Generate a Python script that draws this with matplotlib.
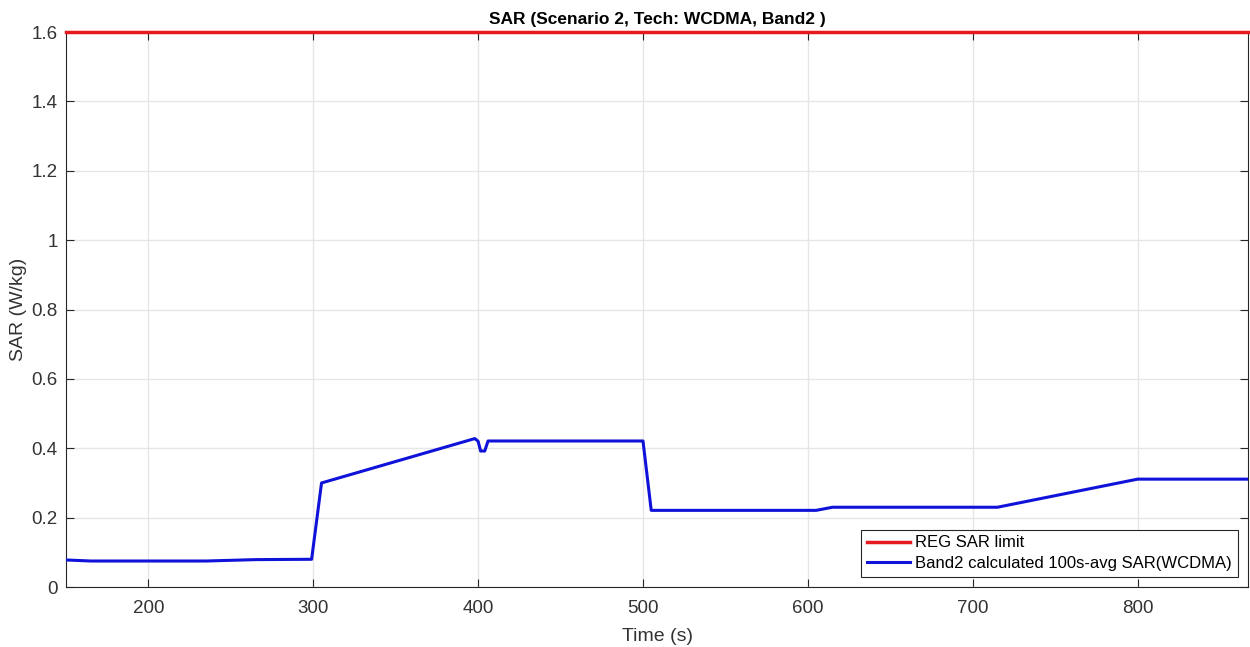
import matplotlib
matplotlib.use("Agg")
import matplotlib.pyplot as plt
import numpy as np

# Data
time_s = [150, 165, 235, 265, 299, 305, 398, 400, 401.5, 404, 406, 500, 505, 605, 615, 715, 800, 867]
sar_avg = [0.078, 0.075, 0.075, 0.079, 0.080, 0.300, 0.428, 0.420, 0.392, 0.392, 0.421, 0.421, 0.221, 0.221, 0.230, 0.230, 0.311, 0.311]
limit_time = [150, 867]
limit_sar = [1.6, 1.6]

xticks = [200, 300, 400, 500, 600, 700, 800]
yticks = [0, 0.2, 0.4, 0.6, 0.8, 1.0, 1.2, 1.4, 1.6]
yticklabels = ["0", "0.2", "0.4", "0.6", "0.8", "1", "1.2", "1.4", "1.6"]

plt.rcParams['font.family'] = ['Liberation Sans', 'DejaVu Sans']

fig = plt.figure(figsize=(12.5, 6.47), dpi=100)
ax = fig.add_axes([0.0528, 0.0927, 0.9456, 0.8578])

ax.plot(limit_time, limit_sar, color='#e8191e', lw=2.5, label='REG SAR limit', clip_on=False, zorder=3)
ax.plot(time_s, sar_avg, color='#0f12d8', lw=2.2, label='Band2 calculated 100s-avg SAR(WCDMA)', zorder=3)

ax.set_xlim(150, 867)
ax.set_ylim(0, 1.6)
ax.set_xticks(xticks)
ax.set_yticks(yticks)
ax.set_yticklabels(yticklabels)
ax.tick_params(direction='in', length=6, labelsize=13.5, colors='#262626', labelcolor='#333333',
               top=True, right=True)
ax.tick_params(axis='x', pad=9)
ax.tick_params(axis='y', pad=6)
ax.grid(True, color='#e6e6e6', lw=1)
ax.set_axisbelow(True)
for s in ax.spines.values():
    s.set_color('#262626')
    s.set_linewidth(0.8)

ax.set_xlabel('Time (s)', fontsize=14, color='#333333', labelpad=8)
ax.set_ylabel('SAR (W/kg)', fontsize=14, color='#333333', labelpad=3)
ax.set_title('SAR (Scenario 2, Tech: WCDMA, Band2 )', fontsize=12.5, fontweight='bold', pad=6)

leg = ax.legend(loc='lower right', fontsize=12, fancybox=False, framealpha=1,
                edgecolor='#262626', handlelength=2.6, borderpad=0.35, labelspacing=0.35,
                handletextpad=0.3, borderaxespad=0.6)
leg.get_frame().set_linewidth(0.8)

fig.savefig('out.png', dpi=100)
